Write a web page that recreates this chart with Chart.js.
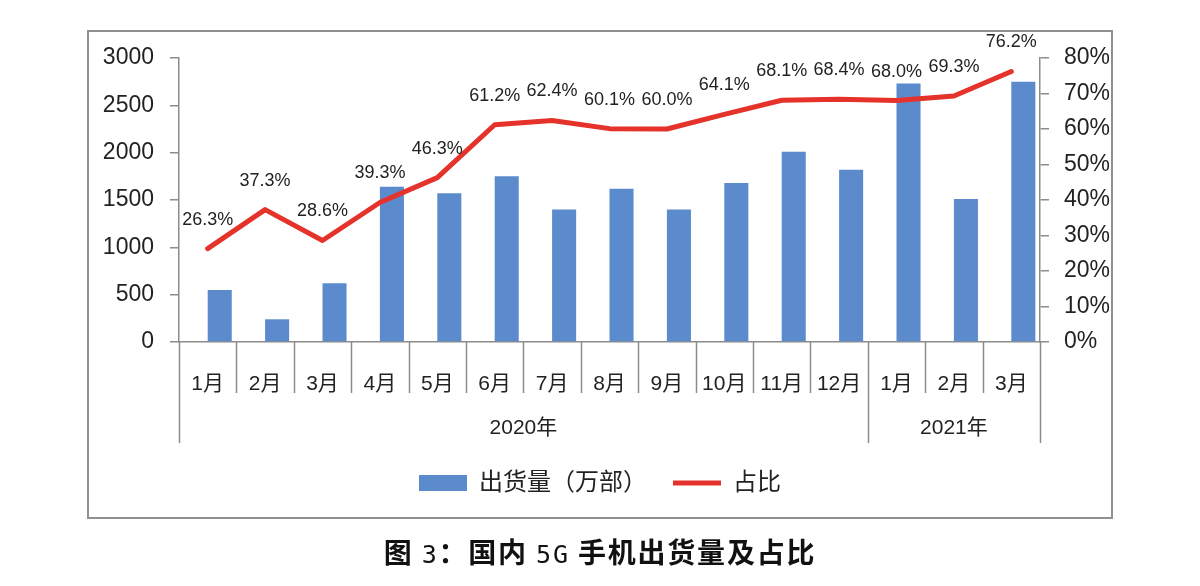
<!DOCTYPE html>
<html lang="zh-CN">
<head>
  <meta charset="UTF-8" />
  <title>国内5G手机出货量及占比</title>
  <script src="https://cdn.jsdelivr.net/npm/chart.js"></script>
  <style>
    body {
      margin: 0;
      background: #fff;
      width: 1200px;
      height: 586px;
      overflow: hidden;
      position: relative;
      font-family: 'Noto Sans CJK SC', sans-serif;
    }
    #frame {
      position: absolute;
      left: 87px;
      top: 30px;
      width: 1022px;
      height: 485px;
      border: 2px solid #8f8f8f;
    }
    #chartBox {
      position: absolute;
      left: 0;
      top: 0;
      width: 1200px;
      height: 586px;
    }
    #caption {
      position: absolute;
      left: 0;
      top: 531px;
      width: 1200px;
      text-align: center;
      font-size: 28px;
      font-weight: bold;
      color: #111;
      letter-spacing: 1.8px;
    }
    #caption .num {
      font-family: 'DejaVu Sans Mono', monospace;
      font-weight: normal;
      font-size: 25px;
    }
  </style>
</head>
<body>
  <div id="frame"></div>
  <div id="chartBox"><canvas id="shipChart" width="1200" height="586"></canvas></div>
  <div id="caption">图 <span class="num">3</span>：国内 <span class="num">5G</span> 手机出货量及占比</div>

  <script>
    const months = ['1月', '2月', '3月', '4月', '5月', '6月', '7月', '8月', '9月', '10月', '11月', '12月', '1月', '2月', '3月'];
    const years = ['2020年', '2021年'];
    const yearSpans = [12, 3];
    const shipments = [550, 240, 620, 1640, 1570, 1750, 1400, 1620, 1400, 1680, 2010, 1820, 2730, 1510, 2750];
    const share = [26.3, 37.3, 28.6, 39.3, 46.3, 61.2, 62.4, 60.1, 60.0, 64.1, 68.1, 68.4, 68.0, 69.3, 76.2];

    const numFont = "'Liberation Sans', sans-serif";
    const cjkFont = "'Liberation Sans', 'Noto Sans CJK SC', sans-serif";
    const axisColor = '#8c8c8c';

    // month separators, year labels and percent labels
    const decor = {
      id: 'decor',
      afterDraw(chart) {
        const { ctx, chartArea } = chart;
        const x = chart.scales.x;
        const step = x.getPixelForValue(1) - x.getPixelForValue(0);
        const base = chartArea.bottom;
        const edges = [0];
        yearSpans.forEach(s => edges.push(edges[edges.length - 1] + s));

        ctx.save();
        ctx.strokeStyle = axisColor;
        ctx.lineWidth = 1.5;
        for (let i = 0; i <= months.length; i++) {
          const px = Math.round(x.getPixelForValue(0) - step / 2 + i * step) + 0.5;
          const len = edges.includes(i) ? 101 : 51;
          ctx.beginPath();
          ctx.moveTo(px, base);
          ctx.lineTo(px, base + len);
          ctx.stroke();
        }

        ctx.fillStyle = '#222';
        ctx.textAlign = 'center';
        ctx.textBaseline = 'middle';
        ctx.font = '21px ' + cjkFont;
        years.forEach((yr, k) => {
          const a = x.getPixelForValue(edges[k]) - step / 2;
          const b = x.getPixelForValue(edges[k + 1] - 1) + step / 2;
          ctx.fillText(yr, (a + b) / 2, base + 86);
        });

        ctx.font = '18px ' + numFont;
        chart.getDatasetMeta(2).data.forEach((pt, i) => {
          ctx.fillText(share[i].toFixed(1) + '%', pt.x, pt.y - 29);
        });
        ctx.restore();
      }
    };

    const ctx = document.getElementById('shipChart').getContext('2d');
    new Chart(ctx, {
      type: 'bar',
      data: {
        labels: months,
        datasets: [
          {
            // empty slot so the bars sit right of the category centre
            label: '',
            data: months.map(() => null),
            backgroundColor: 'rgba(0,0,0,0)',
            categoryPercentage: 0.838,
            barPercentage: 1,
            order: 1
          },
          {
            label: '出货量（万部）',
            data: shipments,
            backgroundColor: '#5b8bcd',
            borderWidth: 0,
            pointStyle: 'rect',
            categoryPercentage: 0.838,
            barPercentage: 1,
            yAxisID: 'y',
            order: 1
          },
          {
            type: 'line',
            label: '占比',
            data: share,
            borderColor: '#e5322a',
            backgroundColor: '#e5322a',
            borderWidth: 5,
            borderCapStyle: 'round',
            borderJoinStyle: 'round',
            pointRadius: 0,
            pointStyle: 'line',
            tension: 0,
            yAxisID: 'y1',
            order: 0
          }
        ]
      },
      options: {
        responsive: false,
        animation: false,
        layout: { padding: { top: 58, left: 0, right: 0, bottom: 81 } },
        plugins: {
          tooltip: { enabled: false },
          legend: {
            position: 'bottom',
            labels: {
              filter: item => item.text !== '',
              sort: (a, b) => a.datasetIndex - b.datasetIndex,
              usePointStyle: true,
              pointStyleWidth: 48,
              boxHeight: 16,
              padding: 26,
              color: '#222',
              font: { size: 24, family: cjkFont }
            }
          }
        },
        scales: {
          x: {
            grid: { display: false },
            border: { color: axisColor, width: 1.5 },
            ticks: { color: '#222', padding: 22, font: { size: 21, family: cjkFont } },
            afterFit: s => { s.height = 103; }
          },
          y: {
            position: 'left',
            min: 0,
            max: 3000,
            ticks: { stepSize: 500, color: '#222', padding: 16, font: { size: 23, family: numFont }, callback: v => String(v) },
            grid: { drawOnChartArea: false, tickLength: 9, color: axisColor, lineWidth: 1.5 },
            border: { color: axisColor, width: 1.5 },
            afterFit: s => { s.width = 179; }
          },
          y1: {
            position: 'right',
            min: 0,
            max: 80,
            ticks: { stepSize: 10, color: '#222', padding: 15, font: { size: 23, family: numFont }, callback: v => v + '%' },
            grid: { drawOnChartArea: false, tickLength: 9, color: axisColor, lineWidth: 1.5 },
            border: { color: axisColor, width: 1.5 },
            afterFit: s => { s.width = 160; }
          }
        }
      },
      plugins: [decor]
    });
  </script>
</body>
</html>
